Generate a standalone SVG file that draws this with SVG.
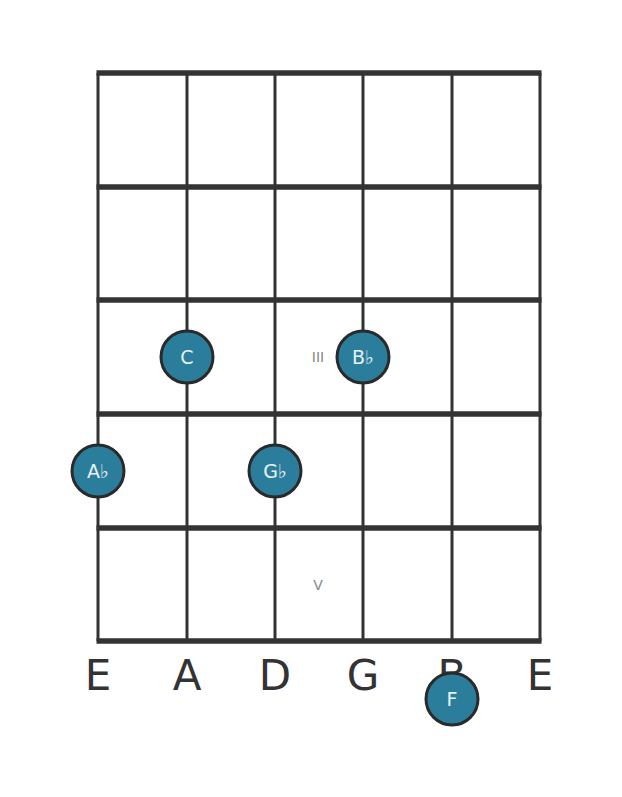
<svg xmlns="http://www.w3.org/2000/svg" width="622" height="797" viewBox="0 0 622 797">
<style>
.fret{stroke:#333;stroke-width:5.5}
.str{stroke:#333;stroke-width:3}
.note circle{fill:#2b7d9c;stroke:#2a2a2a;stroke-width:3}
.note text{fill:#e8f2f6;font-family:"DejaVu Sans",sans-serif;font-size:19px;text-anchor:middle;dominant-baseline:central}
.lbl{fill:#333;font-family:"DejaVu Sans",sans-serif;font-size:42px;text-anchor:middle}
.pos{fill:#888;font-family:"DejaVu Sans",sans-serif;font-size:14px;text-anchor:middle;dominant-baseline:central}
</style>
<rect width="622" height="797" fill="#fff"/>
<g id="fretboard">
<line class="str" x1="98" y1="73" x2="98" y2="641"/>
<line class="str" x1="187" y1="73" x2="187" y2="641"/>
<line class="str" x1="275" y1="73" x2="275" y2="641"/>
<line class="str" x1="363" y1="73" x2="363" y2="641"/>
<line class="str" x1="452" y1="73" x2="452" y2="641"/>
<line class="str" x1="540" y1="73" x2="540" y2="641"/>
<line class="fret" x1="96.5" y1="73" x2="541.5" y2="73"/>
<line class="fret" x1="96.5" y1="187" x2="541.5" y2="187"/>
<line class="fret" x1="96.5" y1="300" x2="541.5" y2="300"/>
<line class="fret" x1="96.5" y1="414" x2="541.5" y2="414"/>
<line class="fret" x1="96.5" y1="528" x2="541.5" y2="528"/>
<line class="fret" x1="96.5" y1="641" x2="541.5" y2="641"/>
</g>
<g id="positions">
<text class="pos" x="318" y="357">III</text>
<text class="pos" x="318" y="585">V</text>
</g>
<g id="string-labels">
<text class="lbl" x="98" y="690">E</text>
<text class="lbl" x="187" y="690">A</text>
<text class="lbl" x="275" y="690">D</text>
<text class="lbl" x="363" y="690">G</text>
<text class="lbl" x="452" y="690">B</text>
<text class="lbl" x="540" y="690">E</text>
</g>
<g id="note-C" class="note"><circle cx="187" cy="357" r="26"/><text x="187" y="357">C</text></g>
<g id="note-Bb" class="note"><circle cx="363" cy="357" r="26"/><text x="363" y="357">B♭</text></g>
<g id="note-Ab" class="note"><circle cx="98" cy="471" r="26"/><text x="98" y="471">A♭</text></g>
<g id="note-Gb" class="note"><circle cx="275" cy="471" r="26"/><text x="275" y="471">G♭</text></g>
<g id="note-F" class="note"><circle cx="452" cy="699" r="26"/><text x="452" y="699">F</text></g>
</svg>
